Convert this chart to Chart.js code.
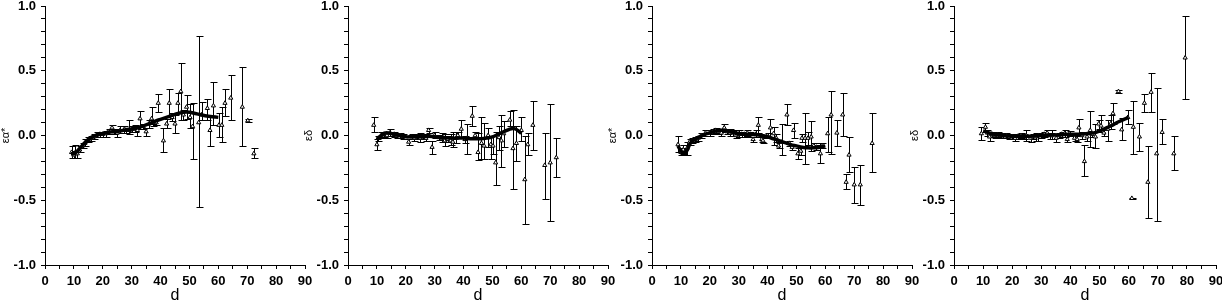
<!DOCTYPE html>
<html><head><meta charset="utf-8">
<script src="https://cdn.jsdelivr.net/npm/chart.js@4/dist/chart.umd.min.js"></script>
<style>
html,body{margin:0;padding:0;background:#fff;}
#wrap{position:relative;width:1222px;height:304px;overflow:hidden;background:#fff;}
canvas{position:absolute;top:0;}
</style></head><body><div id="wrap">
<canvas id="c1" width="318" height="304" style="left:0px"></canvas>
<canvas id="c2" width="318" height="304" style="left:303px"></canvas>
<canvas id="c3" width="318" height="304" style="left:607px"></canvas>
<canvas id="c4" width="313" height="304" style="left:909px"></canvas>
</div>
<script>
// ---------- tick labels ----------
const xTickLabels = ['0','10','20','30','40','50','60','70','80','90'];
const yTickLabels = ['-1.0','-0.5','0.0','0.5','1.0'];
const xTitle = 'd';
const yTitles = ['εα*','εδ','εα*','εδ'];

// ---------- panel 1 (εα*) ----------
const p1D  = [9.2,10.0,10.5,11.2,12.0,13.0,13.8,15.0,16.0,17.0,18.0,19.0,20.0,21.0,22.0,23.2,24.0,25.0,26.0,27.5,28.0,29.2,30.0,31.0,32.0,32.9,34.0,35.0,36.0,36.9,37.5,38.5,39.2,41.0,42.1,43.0,44.0,45.0,46.0,47.0,47.9,49.0,50.2,51.1,53.2,54.2,56.2,57.1,58.3,60.2,61.2,62.3,64.3,68.3,70.2,72.3];
const p1V  = [-0.13,-0.15,-0.14,-0.14,-0.11,-0.08,-0.06,-0.03,-0.02,-0.01,0.005,0.01,0.01,0.015,0.03,0.06,0.03,0.02,0.04,0.05,0.04,0.04,0.05,0.05,0.04,0.13,0.07,0.03,0.09,0.13,0.10,0.10,0.25,-0.04,0.09,0.25,0.14,0.09,0.25,0.34,0.16,0.22,0.14,0.07,0.10,0.16,0.21,0.04,0.23,0.08,0.08,0.25,0.29,0.22,0.115,-0.14];
const p1Up = [0.05,0.03,0.07,0.03,0.03,0.02,0.03,0.02,0.02,0.02,0.02,0.02,0.02,0.02,0.02,0.02,0.02,0.03,0.03,0.02,0.02,0.08,0.02,0.03,0.03,0.06,0.02,0.03,0.03,0.09,0.02,0.02,0.07,0.10,0.04,0.11,0.03,0.07,0.08,0.22,0.04,0.09,0.10,0.18,0.67,0.10,0.07,0.10,0.18,0.09,0.14,0.11,0.18,0.31,0.01,0.04];
const p1Dn = [0.04,0.02,0.03,0.03,0.02,0.02,0.02,0.02,0.02,0.02,0.02,0.02,0.02,0.03,0.02,0.03,0.02,0.03,0.02,0.03,0.02,0.03,0.02,0.02,0.04,0.08,0.02,0.03,0.03,0.04,0.03,0.02,0.07,0.09,0.03,0.11,0.03,0.07,0.08,0.22,0.04,0.09,0.08,0.25,0.65,0.04,0.09,0.12,0.15,0.09,0.13,0.10,0.17,0.30,0.01,0.03];
const p1CurveD = [9,10,11,12,13,14,15,16,17,18,20,22,24,26,28,30,32,34,36,38,40,42,44,46,48,50,52,54,56,58,60];
const p1CurveV = [-0.14,-0.14,-0.125,-0.10,-0.075,-0.05,-0.03,-0.015,-0.005,0.005,0.015,0.025,0.03,0.035,0.045,0.05,0.06,0.075,0.09,0.11,0.125,0.14,0.155,0.17,0.18,0.18,0.17,0.16,0.15,0.145,0.14];

// ---------- panel 2 (εδ) ----------
const p2D  = [8.9,10.0,10.5,11.5,12.5,13.5,14.5,16.0,17.0,18.0,19.0,21.0,22.0,23.0,24.0,25.0,26.0,27.0,27.9,29.1,30.0,31.5,32.5,33.5,34.5,35.5,36.3,37.5,38.0,39.2,40.5,41.3,43.0,44.0,45.0,46.2,47.1,48.5,49.4,50.2,51.1,52.3,53.1,53.9,56.0,57.1,58.3,60.0,61.2,62.2,64.0,68.1,70.0,72.1];
const p2V  = [0.08,-0.07,-0.02,0.0,0.01,0.0,0.02,0.01,0.0,0.0,-0.01,-0.05,-0.01,-0.02,-0.01,-0.02,-0.01,-0.02,0.04,-0.09,0.0,-0.015,-0.02,-0.04,-0.03,-0.04,-0.05,-0.02,0.0,0.05,-0.03,-0.02,0.15,0.0,-0.13,-0.06,-0.08,0.0,-0.07,-0.08,-0.21,-0.015,-0.04,0.015,0.12,-0.10,-0.06,0.04,-0.34,-0.07,0.08,-0.23,-0.21,-0.17];
const p2Up = [0.06,0.04,0.02,0.03,0.02,0.02,0.03,0.02,0.02,0.02,0.02,0.02,0.02,0.03,0.02,0.04,0.02,0.03,0.02,0.05,0.03,0.02,0.04,0.05,0.03,0.05,0.08,0.05,0.03,0.07,0.03,0.11,0.08,0.03,0.15,0.20,0.18,0.06,0.07,0.08,0.24,0.09,0.20,0.10,0.07,0.30,0.13,0.10,0.34,0.09,0.19,0.25,0.45,0.15];
const p2Dn = [0.05,0.04,0.02,0.02,0.02,0.02,0.02,0.02,0.02,0.02,0.02,0.02,0.02,0.02,0.02,0.03,0.02,0.02,0.02,0.05,0.02,0.02,0.03,0.04,0.02,0.03,0.04,0.04,0.02,0.07,0.03,0.12,0.08,0.03,0.06,0.12,0.10,0.09,0.11,0.06,0.17,0.10,0.20,0.10,0.05,0.31,0.14,0.08,0.34,0.08,0.19,0.26,0.45,0.15];
const p2CurveD = [10,11,12,13,14,15,16,18,20,22,25,28,30,33,36,40,43,46,48,50,52,54,56,57,58,59,60];
const p2CurveV = [-0.03,-0.01,0.01,0.02,0.02,0.015,0.01,0.0,-0.01,-0.01,-0.01,-0.005,-0.01,-0.015,-0.02,-0.02,-0.025,-0.025,-0.02,-0.01,0.01,0.03,0.05,0.055,0.05,0.035,0.015];

// ---------- panel 3 (εα*) ----------
const p3D  = [9.0,10.0,10.8,11.5,12.1,13.0,14.0,15.0,16.0,17.0,18.5,20.0,21.0,22.0,23.0,24.0,25.0,26.0,27.0,28.0,29.2,30.0,31.0,32.0,33.0,34.0,35.0,36.0,36.8,38.0,38.4,40.0,41.0,42.1,43.0,43.8,45.0,46.7,47.5,48.5,49.0,50.5,51.5,51.9,53.0,54.0,55.1,56.0,56.9,58.3,59.0,60.8,62.0,64.0,66.0,67.2,68.2,70.0,72.1,76.2];
const p3V  = [-0.07,-0.13,-0.11,-0.13,-0.10,-0.05,-0.04,-0.03,-0.02,0.0,0.02,0.02,0.03,0.04,0.03,0.02,0.06,0.03,0.02,0.02,0.0,0.01,0.01,0.01,0.02,0.01,-0.03,0.01,0.08,-0.03,-0.04,0.0,0.06,0.015,-0.02,-0.08,-0.05,0.16,-0.06,-0.09,0.04,-0.14,-0.12,-0.02,-0.02,-0.02,-0.01,-0.08,-0.09,-0.14,-0.08,0.015,0.16,0.02,0.16,-0.36,-0.15,-0.38,-0.38,-0.06];
const p3Up = [0.07,0.03,0.04,0.03,0.05,0.02,0.02,0.02,0.02,0.02,0.02,0.02,0.02,0.02,0.02,0.02,0.03,0.02,0.03,0.02,0.04,0.03,0.02,0.02,0.02,0.02,0.02,0.03,0.06,0.02,0.02,0.02,0.07,0.05,0.03,0.02,0.14,0.08,0.02,0.02,0.06,0.04,0.03,0.03,0.19,0.05,0.12,0.02,0.02,0.08,0.02,0.13,0.18,0.10,0.17,0.06,0.14,0.14,0.15,0.23];
const p3Dn = [0.06,0.02,0.03,0.02,0.05,0.02,0.02,0.02,0.02,0.02,0.02,0.02,0.02,0.02,0.02,0.02,0.03,0.02,0.02,0.02,0.02,0.02,0.02,0.02,0.02,0.02,0.02,0.02,0.06,0.02,0.02,0.02,0.07,0.09,0.03,0.02,0.10,0.08,0.02,0.02,0.06,0.04,0.03,0.03,0.20,0.05,0.11,0.02,0.02,0.07,0.02,0.14,0.30,0.10,0.16,0.05,0.13,0.14,0.16,0.22];
const p3CurveD = [9,10,11,12,13,14,15,16,17,18,19,20,22,24,26,28,30,32,34,36,38,40,42,44,46,48,50,52,54,56,58,60];
const p3CurveV = [-0.08,-0.12,-0.135,-0.12,-0.07,-0.04,-0.025,-0.015,-0.005,0.005,0.015,0.02,0.035,0.04,0.035,0.025,0.015,0.01,0.01,0.005,0.0,-0.01,-0.025,-0.04,-0.055,-0.07,-0.08,-0.09,-0.095,-0.095,-0.09,-0.08];

// ---------- panel 4 (εδ) ----------
const p4D  = [9.4,10.8,11.5,12.2,13.0,14.0,15.0,16.0,17.0,18.0,19.0,20.0,21.0,22.0,23.0,24.0,24.8,26.3,27.0,28.0,29.0,30.0,31.0,32.0,33.0,33.7,35.1,36.0,37.0,38.0,38.9,39.7,41.4,42.3,42.9,43.9,44.8,45.7,46.8,47.5,48.6,49.7,50.5,51.5,52.8,53.8,54.6,56.5,57.6,59.7,61.1,61.6,63.7,65.4,66.6,67.7,69.6,71.5,75.5,79.4];
const p4V  = [0.015,0.065,0.02,-0.01,0.01,0.0,0.005,0.0,0.0,0.0,-0.01,-0.01,-0.02,-0.005,0.0,-0.01,0.0,-0.02,-0.01,-0.01,0.0,0.0,0.01,0.02,0.0,0.0,-0.02,0.0,0.01,0.015,-0.03,0.015,-0.02,-0.03,0.06,0.0,-0.20,-0.01,0.04,0.01,-0.01,0.09,0.075,0.02,0.05,0.09,0.17,0.34,0.045,0.14,-0.485,0.065,-0.01,0.25,-0.36,0.335,-0.14,0.025,-0.14,0.60];
const p4Up = [0.05,0.03,0.02,0.03,0.02,0.02,0.02,0.02,0.02,0.02,0.02,0.02,0.02,0.02,0.02,0.02,0.04,0.02,0.02,0.03,0.02,0.02,0.02,0.02,0.02,0.04,0.03,0.02,0.02,0.03,0.05,0.02,0.03,0.03,0.07,0.03,0.13,0.03,0.15,0.02,0.10,0.03,0.08,0.02,0.07,0.07,0.08,0.01,0.09,0.06,0.005,0.20,0.11,0.07,0.28,0.15,0.51,0.10,0.14,0.32];
const p4Dn = [0.05,0.04,0.02,0.03,0.02,0.02,0.02,0.02,0.02,0.02,0.02,0.02,0.02,0.02,0.02,0.02,0.04,0.03,0.02,0.03,0.04,0.02,0.02,0.02,0.03,0.03,0.03,0.02,0.02,0.03,0.02,0.02,0.02,0.02,0.04,0.03,0.11,0.03,0.13,0.02,0.09,0.04,0.05,0.02,0.09,0.04,0.08,0.01,0.08,0.05,0.005,0.21,0.11,0.07,0.28,0.15,0.52,0.09,0.13,0.32];
const p4CurveD = [10,11,12,13,14,15,17,20,23,26,30,33,36,40,43,46,48,50,52,54,56,58,60];
const p4CurveV = [0.035,0.03,0.02,0.015,0.01,0.005,0.0,-0.005,-0.005,-0.005,0.0,0.005,0.005,0.01,0.01,0.015,0.02,0.035,0.055,0.075,0.10,0.12,0.14];

// ---------- drawing ----------
const errPlugin = {
  id: 'errbars',
  beforeDatasetsDraw(chart) {
    const ds = chart.data.datasets.find(d => d.errUp);
    if (!ds) return;
    const xs = chart.scales.x, ys = chart.scales.y, ctx = chart.ctx;
    const a = chart.chartArea;
    ctx.save();
    ctx.beginPath(); ctx.rect(a.left, a.top - 1, a.right - a.left, a.bottom - a.top + 2); ctx.clip();
    ctx.strokeStyle = '#000'; ctx.lineWidth = 1;
    ds.data.forEach((p, i) => {
      const x = Math.round(xs.getPixelForValue(p.x)) + 0.5;
      const yt = Math.round(ys.getPixelForValue(p.y + ds.errUp[i])) + 0.5;
      const yb = Math.round(ys.getPixelForValue(p.y - ds.errDn[i])) + 0.5;
      ctx.beginPath();
      ctx.moveTo(x, yt); ctx.lineTo(x, yb);
      ctx.moveTo(x - 3, yt); ctx.lineTo(x + 4, yt);
      ctx.moveTo(x - 3, yb); ctx.lineTo(x + 4, yb);
      ctx.stroke();
    });
    ctx.restore();
  }
};

const FONT = "'Liberation Sans', Arial, sans-serif";
function makePanel(id, plotW, yTitle, D, V, Up, Dn, CD, CV) {
  const cv = document.getElementById(id);
  const W = cv.width;
  new Chart(cv, {
    type: 'scatter',
    data: {
      datasets: [
        { type: 'line', data: CD.map((d, i) => ({x: d, y: CV[i]})), borderColor: '#000', borderWidth: 3.5,
          pointRadius: 0, tension: 0.4, fill: false, order: 0 },
        { type: 'scatter', data: D.map((d, i) => ({x: d, y: V[i]})), errUp: Up, errDn: Dn,
          pointStyle: 'triangle', pointRadius: 2.4, borderWidth: 1, borderColor: '#000',
          backgroundColor: '#fff', order: 1 }
      ]
    },
    options: {
      responsive: false, animation: false, devicePixelRatio: 1,
      layout: { padding: { top: 6, left: 0, bottom: 0, right: W - 45 - plotW } },
      plugins: { legend: { display: false }, tooltip: { enabled: false } },
      scales: {
        x: {
          type: 'linear', min: 0, max: 90,
          afterFit: s => { s.height = 39; s.paddingLeft = 0; s.paddingRight = 0; },
          border: { display: true, color: '#000', width: 1 },
          grid: { display: true, drawOnChartArea: false, drawTicks: true, tickLength: 4, color: '#000' },
          ticks: { stepSize: 5, autoSkip: false, maxRotation: 0, padding: 5, color: '#000',
                   font: { family: FONT, size: 13, weight: 'bold' },
                   callback: v => (Math.abs(v % 10) < 1e-6 ? xTickLabels[Math.round(v / 10)] : '') },
          title: { display: true, text: xTitle, color: '#000', font: { family: FONT, size: 16, lineHeight: 1 }, padding: { top: 0, bottom: 0 } }
        },
        y: {
          type: 'linear', min: -1, max: 1,
          afterFit: s => { s.width = 45; s.paddingTop = 0; s.paddingBottom = 0; },
          border: { display: true, color: '#000', width: 1 },
          grid: { display: true, drawOnChartArea: false, drawTicks: true, tickLength: 4, color: '#000' },
          ticks: { stepSize: 0.1, autoSkip: false, padding: 5, color: '#000',
                   font: { family: FONT, size: 13, weight: 'bold' },
                   callback: v => { const k = v * 2; return Math.abs(k - Math.round(k)) < 1e-6 ? yTickLabels[Math.round(k) + 2] : ''; } },
          title: { display: true, text: yTitle, color: '#000', font: { family: FONT, size: 11, lineHeight: 1 }, padding: { top: 0, bottom: 0 } }
        }
      }
    },
    plugins: [errPlugin]
  });
}
makePanel('c1', 260, yTitles[0], p1D, p1V, p1Up, p1Dn, p1CurveD, p1CurveV);
makePanel('c2', 260, yTitles[1], p2D, p2V, p2Up, p2Dn, p2CurveD, p2CurveV);
makePanel('c3', 260, yTitles[2], p3D, p3V, p3Up, p3Dn, p3CurveD, p3CurveV);
makePanel('c4', 262, yTitles[3], p4D, p4V, p4Up, p4Dn, p4CurveD, p4CurveV);
</script></body></html>
